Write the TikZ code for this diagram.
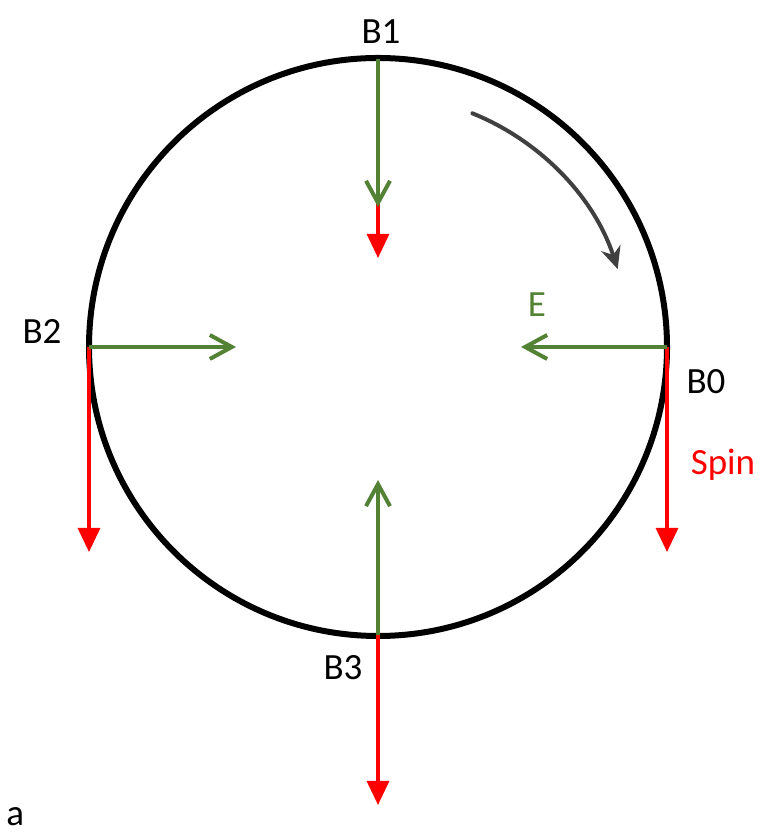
\documentclass[tikz,border=0pt]{standalone}
\usepackage{fontspec}
\setmainfont{Carlito}
\usepackage{xcolor}
\usetikzlibrary{positioning}
\usetikzlibrary{arrows.meta}

\definecolor{efield}{HTML}{548235}
\definecolor{spinred}{HTML}{FF0000}
\definecolor{rotgrey}{HTML}{404040}

\begin{document}
\begin{tikzpicture}[
                x=0.5pt, y=0.5pt,
                ring/.style = {line width=3pt, black},
                earrow/.style = {-{Straight Barb[length=11pt, width=12pt]}, line width=2pt, efield},
                sarrow/.style = {-{Triangle[length=12pt, width=11pt]}, line width=1.6pt, spinred},
                rotarrow/.style = {-{Stealth[length=11pt, width=10pt]}, line width=2pt, rotgrey, line cap=round},
                % Stile per le etichette dei punti
                point label/.style = {font=\fontsize{18.5}{22}\selectfont, inner sep=0pt}
                ]

                \useasboundingbox (0,0) rectangle (765,833);

                % --- Cerchio e punti ---
                \coordinate (c) at (378,486);
                \draw[ring] (c) circle [radius=144.5pt];
                \coordinate (b0) at (667,486);
                \coordinate (b1) at (378,774);
                \coordinate (b2) at (89,486);
                \coordinate (b3) at (378,198);

                % --- Punte delle frecce ---
                \coordinate (s0) at (667,281);
                \coordinate (s1) at (378,575);
                \coordinate (s2) at (89,281);
                \coordinate (s3) at (378,28);
                \coordinate (e0) at (521,486);
                \coordinate (e1) at (378,626);
                \coordinate (e2) at (236,486);
                \coordinate (e3) at (378,353);

                % --- Frecce spin (rosse) ---
                \foreach \i in {0,...,3} {
                    \draw[sarrow] (b\i) -- (s\i);
                }

                % --- Frecce E (verdi) ---
                \foreach \i in {0,...,3} {
                    \draw[earrow] (b\i) -- (e\i);
                }

                % --- Rotazione ---
                \coordinate (rot) at ([shift={(68:126pt)}]c);
                \draw[rotarrow] (rot) arc [start angle=68, end angle=18, radius=126pt];

                % --- Etichette ---
                \node[point label] (l1) at (381,801) {B1};
                \node[point label] (l2) at (42,501) {B2};
                \node[point label] (l0) at (706,451) {B0};
                \node[point label] (l3) at (343,165) {B3};
                \node[point label, efield] (le) at (537,528) {E};
                \node[point label, spinred] (ls) at (723,368) {Spin};
                \node[point label, anchor=base west] (la) at (6,8) {a};

            \end{tikzpicture}
\end{document}
